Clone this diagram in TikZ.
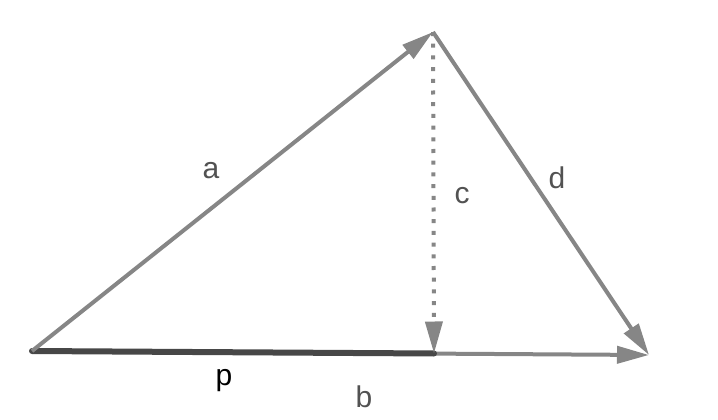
\documentclass[tikz,border=0pt]{standalone}
\usepackage{fontspec}
\setmainfont{Liberation Sans}
\usetikzlibrary{arrows.meta}
\begin{document}
\begin{tikzpicture}[
    x=1pt, y=-1pt,
    vec/.style={-{Triangle[length=32pt,width=17pt]}, line width=4pt, draw=gray!95},
    proj/.style={line width=6pt, draw=black!72, line cap=round},
    drop/.style={vec, dash pattern=on 4pt off 7.7pt},
    lbl/.style={anchor=base, text=black!68, font=\fontsize{30}{36}\selectfont, inner sep=0pt}
]
    \useasboundingbox (0,0) rectangle (718,420);
    \coordinate (origin) at (32,351);
    \coordinate (apex) at (433,32);
    \coordinate (foot) at (434,353.5);
    \coordinate (tip) at (649,355);

    \draw[vec] (origin) -- (tip);
    \draw[proj] (origin) -- (foot);
    \draw[vec] (origin) -- (apex);
    \draw[vec] (apex) -- (tip);
    \draw[drop] (apex) -- (foot);

    \node[lbl] (la) at (211,178) {a};
    \node[lbl] (lc) at (462,203) {c};
    \node[lbl] (ld) at (557,188) {d};
    \node[lbl] (lb) at (364,407) {b};
    \node[lbl, text=black] (lp) at (224,385) {p};
\end{tikzpicture}
\end{document}
